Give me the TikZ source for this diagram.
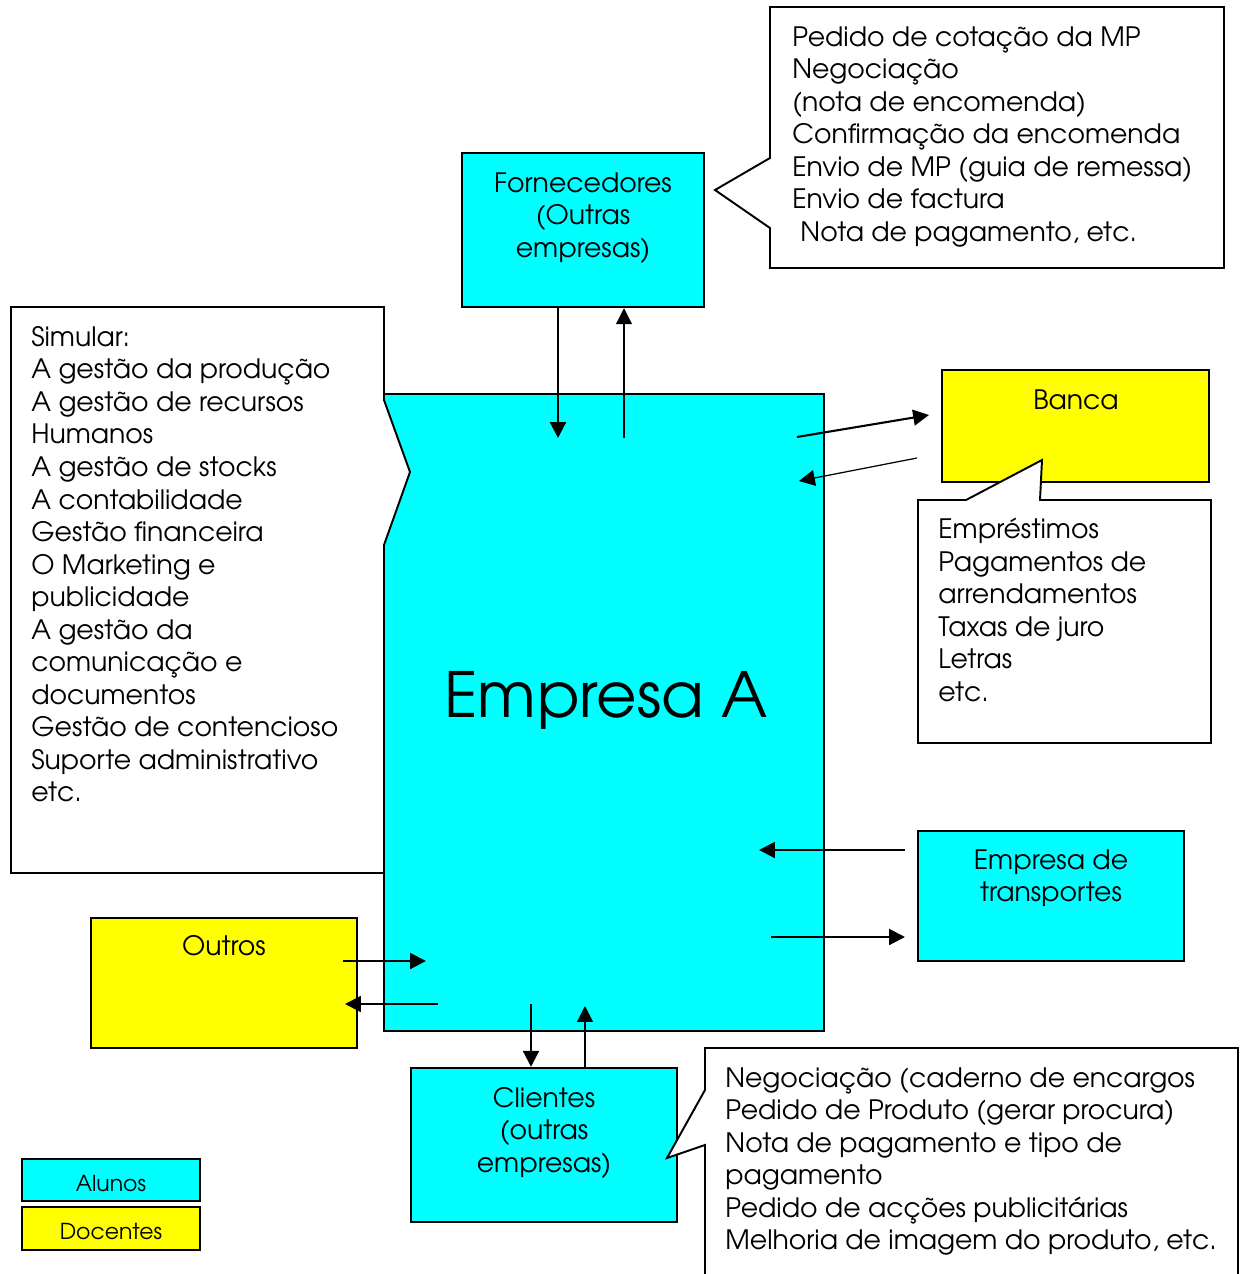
\documentclass[tikz,border=0pt]{standalone}
\usepackage{fontspec}
\setmainfont{TeX Gyre Adventor}
\usetikzlibrary{arrows.meta,fit}

\definecolor{aqua}{RGB}{0,255,255}
\definecolor{amarelo}{RGB}{255,255,0}

\tikzset{
  box/.style={draw, line width=1.4pt, inner sep=0pt},
  aluno/.style={box, fill=aqua},
  docente/.style={box, fill=amarelo},
  note/.style={draw, line width=1.1pt, fill=white, line join=miter},
  txt/.style={inner sep=0pt, align=left, font=\fontsize{15.2}{18.5}\selectfont},
  ctxt/.style={txt, align=center},
  flow/.style={-{Triangle[length=9pt,width=9pt]}, line width=1.2pt},
  back/.style={-{Triangle[length=9pt,width=9pt]}, line width=0.7pt},
}

\begin{document}
\begin{tikzpicture}[x=0.2mm, y=-0.2mm]
    \clip (0,0) rectangle (1240,1274);
    \fill[white] (0,0) rectangle (1240,1274);

    % empresa e parceiros
    \node[aluno, fit={(384,394) (824,1031)}]   (emp)   {};
    \node[aluno, fit={(462,153) (704,307)}]    (forn)  {};
    \node[docente, fit={(942,370) (1209,482)}] (banca) {};
    \node[aluno, fit={(918,831) (1184,961)}]   (transp){};
    \node[docente, fit={(91,918) (357,1048)}]  (outros){};
    \node[aluno, fit={(411,1068) (677,1222)}]  (cli)   {};
    \node[aluno, fit={(22,1159) (200,1201)}]   (legA)  {};
    \node[docente, fit={(22,1207) (200,1250)}] (legD)  {};

    \node[font=\fontsize{35.5}{42}\selectfont, anchor=base] (empname) at (606,717) {Empresa A};
    \node[ctxt, anchor=north] (fornname)   at (583,172)  {Fornecedores\\(Outras\\empresas)};
    \node[ctxt, anchor=north] (bancaname)  at (1076,389) {Banca};
    \node[ctxt, anchor=north] (transpname) at (1051,849) {Empresa de\\transportes};
    \node[ctxt, anchor=north] (outrosname) at (224,935)  {Outros};
    \node[ctxt, anchor=north] (cliname)    at (544,1087) {Clientes\\(outras\\empresas)};
    \node[font=\fontsize{12.5}{14}\selectfont, yshift=-2pt] (legAname) at (legA) {Alunos};
    \node[font=\fontsize{12.5}{14}\selectfont, yshift=-1.5pt] (legDname) at (legD) {Docentes};

    % notas
    \draw[note] (770,7) -- (1224,7) -- (1224,268) -- (770,268) -- (770,228)
        -- (715,190) -- (770,158) -- cycle;
    \draw[note] (11,307) -- (384,307) -- (384,400) -- (410,472) -- (384,545)
        -- (384,873) -- (11,873) -- cycle;
    \draw[note] (918,500) -- (966,500) -- (1042,460) -- (1040,500) -- (1211,500)
        -- (1211,743) -- (918,743) -- cycle;
    \draw[note] (705,1048) -- (1238,1048) -- (1238,1300) -- (705,1300) -- (705,1145)
        -- (667,1158) -- (705,1090) -- cycle;

    \node[txt, anchor=north west] (fornnote) at (792,26) {Pedido de cotação da MP\\Negociação\\(nota de encomenda)\\Confirmação da encomenda\\Envio de MP (guia de remessa)\\Envio de factura\\\hspace{0.3em}Nota de pagamento, etc.};
    \node[txt, anchor=north west] (simnote) at (31,326) {Simular:\\A gestão da produção\\A gestão de recursos\\Humanos\\A gestão de stocks\\A contabilidade\\Gestão financeira\\O Marketing e\\publicidade\\A gestão da\\comunicação e\\documentos\\Gestão de contencioso\\Suporte administrativo\\etc.};
    \node[txt, anchor=north west] (bancanote) at (938,518) {Empréstimos\\Pagamentos de\\arrendamentos\\Taxas de juro\\Letras\\etc.};
    \node[txt, anchor=north west] (clinote) at (725,1067) {Negociação (caderno de encargos\\Pedido de Produto (gerar procura)\\Nota de pagamento e tipo de\\pagamento\\Pedido de acções publicitárias\\Melhoria de imagem do produto, etc.};

    % fluxos
    \coordinate (fornIn)   at (558,438);
    \coordinate (fornOut)  at (624,438);
    \coordinate (bancaOut) at (797,437);
    \coordinate (bancaTo)  at (929,415);
    \coordinate (bancaFr)  at (917,458);
    \coordinate (bancaIn)  at (799,481);
    \coordinate (transpFr) at (905,850);
    \coordinate (transpIn) at (759,850);
    \coordinate (transpOut)at (771,937);
    \coordinate (transpTo) at (905,937);
    \coordinate (outrosFr) at (343,961);
    \coordinate (outrosIn) at (426,961);
    \coordinate (outrosOut)at (438,1004);
    \coordinate (outrosTo) at (345,1004);
    \coordinate (cliOut)   at (531,1004);
    \coordinate (cliIn)    at (585,1006);

    \draw[flow] (forn.south -| fornIn) -- (fornIn);
    \draw[back] (fornOut) -- (forn.south -| fornOut);
    \draw[flow] (bancaOut) -- (bancaTo);
    \draw[back] (bancaFr) -- (bancaIn);
    \draw[flow] (transpFr) -- (transpIn);
    \draw[flow] (transpOut) -- (transpTo);
    \draw[flow] (outrosFr) -- (outrosIn);
    \draw[flow] (outrosOut) -- (outrosTo);
    \draw[flow] (cliOut) -- (cli.north -| cliOut);
    \draw[back] (cli.north -| cliIn) -- (cliIn);
\end{tikzpicture}
\end{document}
